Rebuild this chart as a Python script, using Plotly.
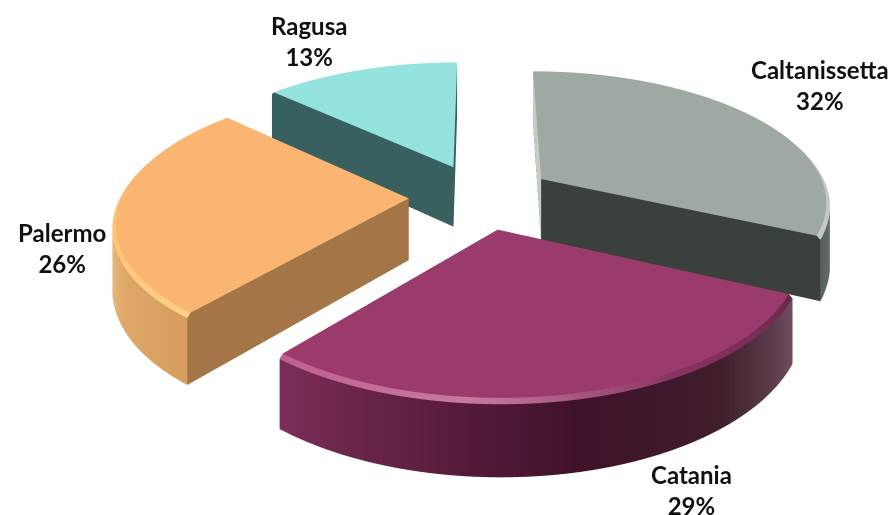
import numpy as np
import plotly.graph_objects as go

labels = ["Caltanissetta", "Catania", "Palermo", "Ragusa"]
shares = [32, 29, 26, 13]
tops = ["#9DA9A1", "#9B3A6C", "#FAB572", "#94E3DF"]
cuts = ["#3A413C", "#5E1F42", "#A47647", "#37605F"]
first_faces = ["#C5CCC7", "#5E1F42", "#A47647", "#37605F"]
rim_stops = [
    ["#AEB8B1", "#AEB8B1", "#7F8A83", "#59625C"],
    ["#705060", "#3F1E2D", "#3F1229", "#5F2040", "#7D2E58"],
    ["#D69F60", "#E0A868", "#F0CCA0", "#F0CCA0", "#F0CCA0"],
    ["#94E3DF", "#5BA9A5"],
]
bevel_stops = [
    ["#AEB8B1", "#C5CCC7"],
    ["#6A2A4A", "#8A3362", "#C77AA0", "#C06090"],
    ["#FFD08A", "#FFC070", "#FFC070"],
    ["#A8ECE8", "#A8ECE8"],
]
label_xy = [(820, 85), (691, 490), (62, 248), (309, 41)]

EXPLODE = 0.25
H = 0.235
BEVEL = 0.012
TAPER = 0.16


def hexrgb(c):
    return np.array([int(c[i:i + 2], 16) for i in (1, 3, 5)], float)


def ramp(stops, f):
    pos = np.linspace(0, 1, len(stops))
    rgb = np.array([hexrgb(c) for c in stops])
    return "#%02X%02X%02X" % tuple(int(np.interp(f, pos, rgb[:, c])) for c in range(3))


fig = go.Figure()
start = 0.0
for i, s in enumerate(shares):
    sweep = s / sum(shares) * 2 * np.pi
    th = np.linspace(start, start + sweep, max(int(s * 3), 24))
    mid = start + sweep / 2
    ox, oy = EXPLODE * np.sin(mid), EXPLODE * np.cos(mid)
    n = len(th)
    X, Y, Z = [], [], []
    I, J, K, F = [], [], [], []

    def v(r, t, z):
        px = ox + r * np.sin(t)
        py = oy + r * np.cos(t)
        w = 1 + TAPER * py
        X.append(px / w)
        Y.append(py / w)
        Z.append(z / w)
        return len(X) - 1

    def tri(a, b, c, col):
        I.append(a)
        J.append(b)
        K.append(c)
        F.append(col)

    def quad(a, b, c, d, col):
        tri(a, b, c, col)
        tri(a, c, d, col)

    c_top = v(0, 0, H)
    c_bot = v(0, 0, 0)
    top_in = [v(1 - BEVEL, t, H) for t in th]
    top_out = [v(1, t, H - BEVEL) for t in th]
    bot = [v(1, t, 0) for t in th]
    for k in range(n - 1):
        tm = (th[k] + th[k + 1]) / 2
        f = (tm - start) / sweep
        tri(c_top, top_in[k], top_in[k + 1], tops[i])
        quad(top_in[k], top_in[k + 1], top_out[k + 1], top_out[k], ramp(bevel_stops[i], f))
        quad(top_out[k], top_out[k + 1], bot[k + 1], bot[k], ramp(rim_stops[i], f))
        tri(c_bot, bot[k], bot[k + 1], cuts[i])
    for e, col in ((0, first_faces[i]), (n - 1, cuts[i])):
        a = v(0, 0, H)
        b = v(1 - BEVEL, th[e], H)
        c = v(1, th[e], H - BEVEL)
        d = v(1, th[e], 0)
        g = v(0, 0, 0)
        tri(a, b, c, col)
        tri(a, c, d, col)
        tri(a, d, g, col)
    fig.add_trace(go.Mesh3d(
        x=X, y=Y, z=Z, i=I, j=J, k=K, facecolor=F, flatshading=True,
        name=labels[i], hoverinfo="name",
        lighting=dict(ambient=1, diffuse=0, specular=0, roughness=1, fresnel=0),
    ))
    start += sweep

axis = dict(visible=False, showgrid=False, zeroline=False, showbackground=False)
center = dict(x=-0.129, y=0, z=-0.228)
fig.update_layout(
    width=896, height=515, margin=dict(l=0, r=0, t=0, b=0),
    paper_bgcolor="white", showlegend=False,
    scene=dict(
        domain=dict(x=[0, 1], y=[0, 1]),
        xaxis=dict(axis, range=[-1.6, 1.6]),
        yaxis=dict(axis, range=[-1.6, 1.6]),
        zaxis=dict(axis, range=[-0.1, 0.5]),
        aspectmode="manual", aspectratio=dict(x=3.6, y=3.79, z=0.69),
        bgcolor="white",
        camera=dict(eye=dict(x=center["x"], y=-2.66, z=1.39 + center["z"]), center=center,
                    up=dict(x=0, y=0, z=1), projection=dict(type="orthographic")),
    ),
)
for (name, s, (px, py)) in zip(labels, shares, label_xy):
    fig.add_annotation(x=px / 896, y=1 - py / 515, xref="paper", yref="paper",
                       xanchor="center", yanchor="middle",
                       text=f"<b>{name}<br>{s}%</b>", showarrow=False,
                       font=dict(family="Lato", size=24, color="#111111"))
fig.write_html("out.html", config=dict(displayModeBar=False),
               post_script="document.body.style.margin='0';document.body.style.overflow='hidden';")
